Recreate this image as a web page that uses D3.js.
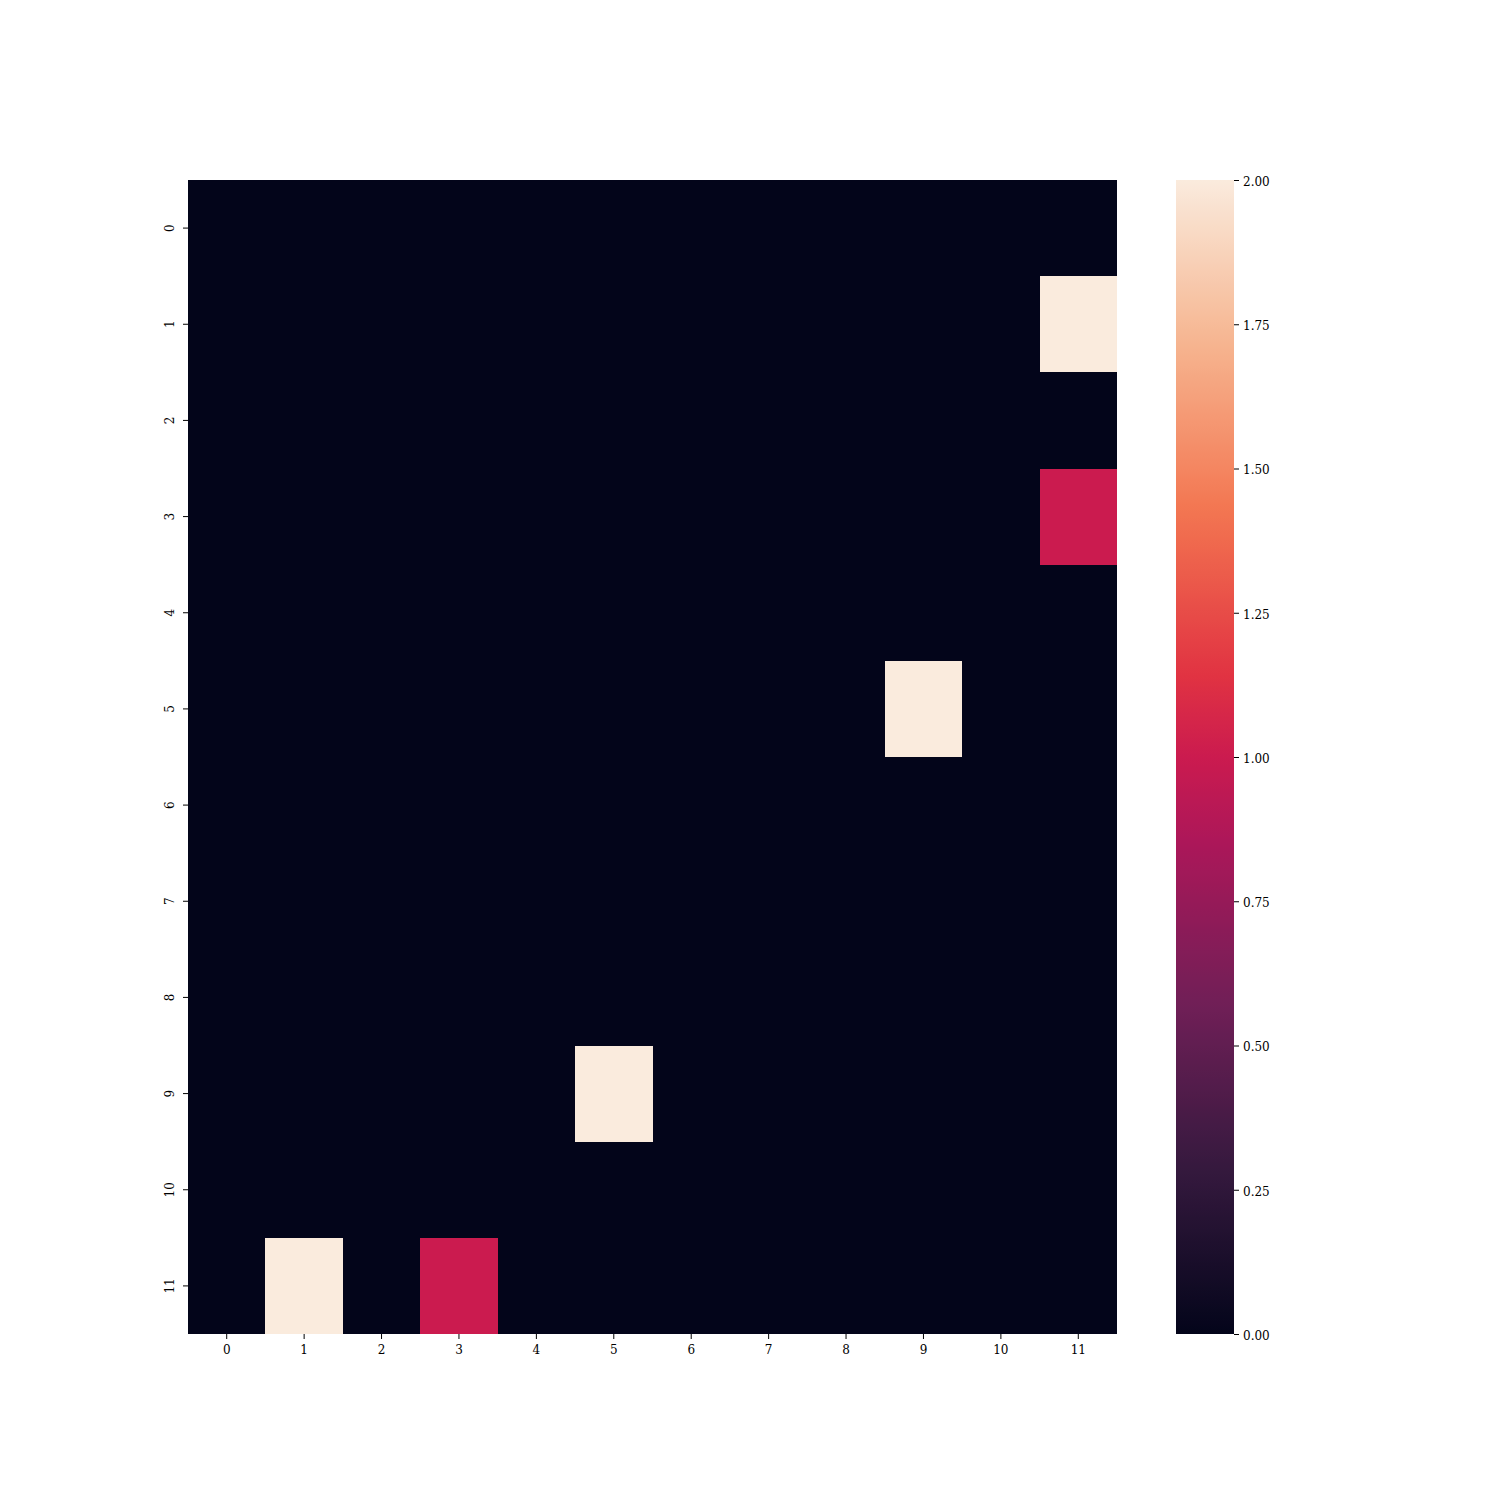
<!DOCTYPE html>
<html><head><meta charset="utf-8">
<script src="https://cdn.jsdelivr.net/npm/d3@7"></script>
<style>body{margin:0;background:#fff}text{font-family:"DejaVu Serif","Liberation Serif",serif}</style>
</head><body>
<svg id="c" width="1500" height="1500"></svg>
<script>
const rows = d3.range(12);
const cols = d3.range(12);
const values = [
 [0,0,0,0,0,0,0,0,0,0,0,0],
 [0,0,0,0,0,0,0,0,0,0,0,2],
 [0,0,0,0,0,0,0,0,0,0,0,0],
 [0,0,0,0,0,0,0,0,0,0,0,1],
 [0,0,0,0,0,0,0,0,0,0,0,0],
 [0,0,0,0,0,0,0,0,0,2,0,0],
 [0,0,0,0,0,0,0,0,0,0,0,0],
 [0,0,0,0,0,0,0,0,0,0,0,0],
 [0,0,0,0,0,0,0,0,0,0,0,0],
 [0,0,0,0,0,2,0,0,0,0,0,0],
 [0,0,0,0,0,0,0,0,0,0,0,0],
 [0,2,0,1,0,0,0,0,0,0,0,0]
];
const cbTicks = [0,0.25,0.5,0.75,1,1.25,1.5,1.75,2];
const rocketPos = [0, 1/7, 2/7, 3/7, 0.5, 4/7, 5/7, 6/7, 1];
const rocketCols = ["#03051a","#35193e","#701f57","#ad1759","#cb1b4f","#e13342","#f37651","#f6b48f","#faebdd"];

const svg = d3.select("#c");
const L=188,R=1117,T=180,B=1334;
const x = d3.scaleBand().domain(cols).range([L,R]);
const y = d3.scaleBand().domain(rows).range([T,B]);
const interp = d3.scaleLinear().domain(rocketPos).range(rocketCols).interpolate(d3.interpolateRgb).clamp(true);
const color = v => interp(v/2);

const cells=[];
rows.forEach(r=>cols.forEach(c=>cells.push({r,c,v:values[r][c]})));
svg.append("rect").attr("x",L).attr("y",T).attr("width",R-L).attr("height",B-T).attr("fill",color(0));
svg.append("g").attr("shape-rendering","crispEdges").selectAll("rect").data(cells).join("rect")
 .attr("x",d=>x(d.c)).attr("y",d=>y(d.r))
 .attr("width",x.bandwidth()).attr("height",y.bandwidth())
 .attr("fill",d=>color(d.v));

const ax = svg.append("g").attr("transform",`translate(0,${B})`).call(d3.axisBottom(x).tickSize(5).tickPadding(6));
ax.select(".domain").remove();
ax.selectAll("text").attr("font-size",12).attr("font-family","DejaVu Serif");
const ay = svg.append("g").attr("transform",`translate(${L},0)`).call(d3.axisLeft(y).tickSize(5).tickPadding(6));
ay.select(".domain").remove();
ay.selectAll("text").attr("font-size",12).attr("font-family","DejaVu Serif")
 .attr("text-anchor","middle").attr("dy","0").attr("x",0)
 .attr("transform","translate(-18,0) rotate(-90)")
 .attr("dominant-baseline","middle");

const CL=1176,CR=1234;
const cy = d3.scaleLinear().domain([0,2]).range([B,T]);
const defs = svg.append("defs");
const grad = defs.append("linearGradient").attr("id","g").attr("x1",0).attr("x2",0).attr("y1",1).attr("y2",0);
d3.range(0,1.0001,0.01).forEach(t=>grad.append("stop").attr("offset",t).attr("stop-color",interp(t)));
svg.append("rect").attr("x",CL).attr("y",T).attr("width",CR-CL).attr("height",B-T).attr("fill","url(#g)");
const ac = svg.append("g").attr("transform",`translate(${CR},0)`).call(d3.axisRight(cy).tickValues(cbTicks).tickFormat(d3.format(".2f")).tickSize(5).tickPadding(4));
ac.select(".domain").remove();
ac.selectAll("text").attr("font-size",12).attr("font-family","DejaVu Serif").attr("dy","0.45em");
</script>
</body></html>
